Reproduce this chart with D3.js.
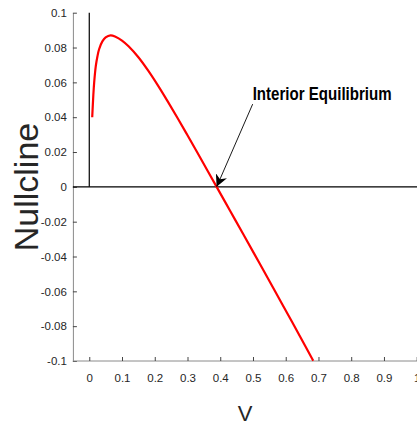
<!DOCTYPE html>
<html><head><meta charset="utf-8">
<script src="https://cdn.jsdelivr.net/npm/d3@7"></script>
<style>body{margin:0;background:#fff}svg{display:block}</style>
</head><body>
<script>
const vValues = [0.009, 0.0125, 0.015, 0.02, 0.025, 0.03, 0.04, 0.05, 0.065, 0.08, 0.10, 0.12, 0.15, 0.18, 0.21, 0.24, 0.27, 0.30, 0.33, 0.36, 0.389, 0.43, 0.47, 0.52, 0.57, 0.62, 0.66, 0.684];
const nullclineValues = [0.040, 0.053, 0.060, 0.0695, 0.075, 0.079, 0.0835, 0.0858, 0.0870, 0.0862, 0.0840, 0.0807, 0.0744, 0.0667, 0.0581, 0.0489, 0.0394, 0.0296, 0.0197, 0.0097, 0.0, -0.0137, -0.0271, -0.0439, -0.0608, -0.0778, -0.0915, -0.0998];
const xTicks = [0, 0.1, 0.2, 0.3, 0.4, 0.5, 0.6, 0.7, 0.8, 0.9, 1];
const yTicks = [-0.1, -0.08, -0.06, -0.04, -0.02, 0, 0.02, 0.04, 0.06, 0.08, 0.1];
const xLabel = "V";
const yLabel = "Nullcline";
const annotationText = "Interior Equilibrium";
const annotationTail = [0.499, 0.0475];
const annotationHead = [0.389, 0.0];
const annotationTextPos = [0.499, 0.05];

const W = 417, H = 427;
const svg = d3.select("body").append("svg").attr("width", W).attr("height", H);
const x = d3.scaleLinear().domain([-0.05, 1]).range([72.9, 416.7]);
const y = d3.scaleLinear().domain([-0.1, 0.1]).range([361, 12.7]);

const tickFont = "'Liberation Sans', Arial, sans-serif";
const fmt = d => String(+d.toFixed(2)); // plain hyphen minus like the reference
// Y axis
const yAxis = d3.axisLeft(y).tickValues(yTicks).tickSizeInner(-4).tickSizeOuter(0).tickPadding(6).tickFormat(fmt);
const gy = svg.append("g").attr("transform", `translate(${x(-0.05)},0)`).call(yAxis);
// X axis
const xAxis = d3.axisBottom(x).tickValues(xTicks).tickSizeInner(-4).tickSizeOuter(0).tickPadding(13).tickFormat(fmt);
const gx = svg.append("g").attr("transform", `translate(0,${y(-0.1)})`).call(xAxis);
gx.select(".domain").attr("d", `M${x(-0.05)},0H${W}`);
[gx, gy].forEach(g => {
  g.select(".domain").attr("stroke", "#8a8a8a").attr("stroke-width", 1);
  g.selectAll(".tick line").attr("stroke", "#444").attr("stroke-width", 1);
  g.selectAll(".tick text").attr("fill", "#262626").style("font-family", tickFont).style("font-size", "11.5px");
});

// black reference lines
svg.append("line").attr("x1", x(0)).attr("x2", x(0)).attr("y1", y(0.1)).attr("y2", y(0))
  .attr("stroke", "#000").attr("stroke-width", 1.2);
svg.append("line").attr("x1", x(-0.05)).attr("x2", W).attr("y1", y(0)).attr("y2", y(0))
  .attr("stroke", "#000").attr("stroke-width", 1.2);

// curve
const pts = vValues.map((v, i) => [v, nullclineValues[i]]);
svg.append("path").datum(pts)
  .attr("d", d3.line().x(d => x(d[0])).y(d => y(d[1])).curve(d3.curveCatmullRom.alpha(0.5)))
  .attr("fill", "none").attr("stroke", "#ff0000").attr("stroke-width", 2.2);

// annotation arrow
const defs = svg.append("defs");
defs.append("marker").attr("id", "ah").attr("viewBox", "0 0 10 10").attr("refX", 10).attr("refY", 5)
  .attr("markerWidth", 12).attr("markerHeight", 12).attr("markerUnits", "userSpaceOnUse").attr("orient", "auto")
  .append("path").attr("d", "M0,0 L10,5 L0,10 L3,5 Z").attr("fill", "#000");
svg.append("line").attr("x1", x(annotationTail[0])).attr("y1", y(annotationTail[1]))
  .attr("x2", x(annotationHead[0])).attr("y2", y(annotationHead[1]))
  .attr("stroke", "#000").attr("stroke-width", 0.9).attr("marker-end", "url(#ah)");
svg.append("text").attr("x", x(annotationTextPos[0])).attr("y", y(annotationTextPos[1]))
  .attr("textLength", 139).attr("lengthAdjust", "spacingAndGlyphs")
  .style("font-family", tickFont)
  .style("font-weight", "bold").style("font-size", "19px").attr("fill", "#000").text(annotationText);

// labels
svg.append("text").attr("x", 245).attr("y", 421).attr("text-anchor", "middle")
  .style("font-family", tickFont).style("font-size", "22px").attr("fill", "#262626").text(xLabel);
svg.append("text").attr("transform", "translate(38,187) rotate(-90)").attr("text-anchor", "middle")
  .style("font-family", tickFont).style("font-size", "34px").attr("fill", "#262626").text(yLabel);
</script>
</body></html>
